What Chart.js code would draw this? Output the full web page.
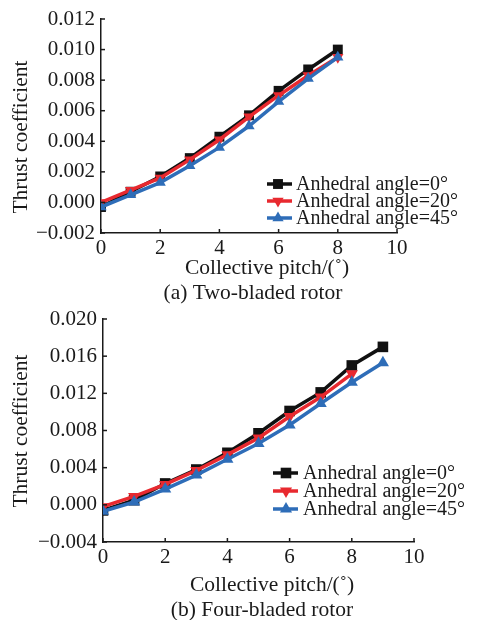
<!DOCTYPE html>
<html><head><meta charset="utf-8">
<script src="https://cdn.jsdelivr.net/npm/chart.js@4"></script>
<style>
html,body{margin:0;padding:0;background:#fff;width:479px;height:620px;overflow:hidden}
.box{position:absolute;left:0;width:479px}
#a{top:0;height:312px;z-index:2}#b{top:300px;height:320px;z-index:1}
canvas{display:block}
</style></head><body>
<div class="box" id="a"><canvas id="ca" width="479" height="312"></canvas></div>
<div class="box" id="b"><canvas id="cb" width="479" height="320"></canvas></div>
<script>
// ---------- data ----------
const seriesNames = ['Anhedral angle=0°', 'Anhedral angle=20°', 'Anhedral angle=45°'];
const xTickValues = [0, 2, 4, 6, 8, 10];
const xTickLabels = ['0', '2', '4', '6', '8', '10'];

// (a) Two-bladed rotor
const pitchA = [0, 1, 2, 3, 4, 5, 6, 7, 8];
const ctA0  = [-0.0003, 0.0007, 0.0017, 0.0029, 0.0043, 0.0057, 0.0073, 0.0087, 0.0100];
const ctA20 = [0.0000, 0.0008, 0.0016, 0.0028, 0.0041, 0.0056, 0.0070, 0.0083, 0.0095];
const ctA45 = [-0.0003, 0.0005, 0.0013, 0.0024, 0.0036, 0.0050, 0.0066, 0.0081, 0.0095];
const yTicksA = [-0.002, 0, 0.002, 0.004, 0.006, 0.008, 0.010, 0.012];
const yLabelsA = ['\u22120.002', '0.000', '0.002', '0.004', '0.006', '0.008', '0.010', '0.012'];
const xTitleA = 'Collective pitch/(\u02da)';
const captionA = '(a) Two-bladed rotor';

// (b) Four-bladed rotor
const pitchB = [0, 1, 2, 3, 4, 5, 6, 7, 8, 9];
const ctB0  = [-0.0006, 0.0005, 0.0023, 0.0038, 0.0056, 0.0077, 0.0101, 0.0121, 0.0150, 0.0170];
const ctB20 = [-0.0002, 0.0009, 0.0022, 0.0037, 0.0054, 0.0072, 0.0095, 0.0116, 0.0141];
const ctB45 = [-0.0007, 0.0003, 0.0017, 0.0032, 0.0049, 0.0066, 0.0086, 0.0109, 0.0132, 0.0153];
const yTicksB = [-0.004, 0, 0.004, 0.008, 0.012, 0.016, 0.020];
const yLabelsB = ['\u22120.004', '0.000', '0.004', '0.008', '0.012', '0.016', '0.020'];
const xTitleB = 'Collective pitch/(\u02da)';
const captionB = '(b) Four-bladed rotor';

const yTitle = 'Thrust coefficient';

// ---------- styles ----------
const FONT = "'Liberation Serif','Times New Roman',serif";
const TXT = '#1a1a1a';
const styles = [
  {color: '#111111', pointStyle: 'rect', rotation: 0},
  {color: '#e8292f', pointStyle: 'triangle', rotation: 180},
  {color: '#2e6db8', pointStyle: 'triangle', rotation: 0}
];

const decor = {
  id: 'decor',
  afterDraw(chart, args, o) {
    const ctx = chart.ctx;
    const {left, bottom} = chart.chartArea;
    const xs = chart.scales.x, ys = chart.scales.y;
    ctx.save();
    ctx.strokeStyle = '#1a1a1a';
    ctx.lineWidth = 1.5;
    xs.ticks.forEach(t => {
      const p = xs.getPixelForValue(t.value);
      ctx.beginPath(); ctx.moveTo(p, bottom); ctx.lineTo(p, bottom - 4); ctx.stroke();
    });
    ys.ticks.forEach(t => {
      const p = ys.getPixelForValue(t.value);
      ctx.beginPath(); ctx.moveTo(left, p); ctx.lineTo(left + 4, p); ctx.stroke();
    });
    ctx.fillStyle = TXT;
    ctx.font = "21.5px " + FONT;
    ctx.textAlign = 'center';
    ctx.textBaseline = 'middle';
    ctx.save();
    ctx.translate(o.yTitle.x, o.yTitle.y);
    ctx.rotate(-Math.PI / 2);
    ctx.fillText(o.yTitle.text, 0, 0);
    ctx.restore();
    ctx.fillText(o.xTitle.text, o.xTitle.x, o.xTitle.y);
    ctx.fillText(o.caption.text, o.caption.x, o.caption.y);
    // legend
    ctx.font = "20px " + FONT;
    ctx.textAlign = 'left';
    const L = o.legend;
    chart.data.datasets.forEach((ds, i) => {
      const y = L.y[i];
      ctx.strokeStyle = ds.borderColor;
      ctx.lineWidth = 3.5;
      ctx.beginPath(); ctx.moveTo(L.x0, y); ctx.lineTo(L.x1, y); ctx.stroke();
      ctx.fillStyle = ds.backgroundColor;
      Chart.helpers.drawPoint(ctx, {pointStyle: ds.pointStyle, rotation: ds.pointRotation,
        radius: ds.pointRadius, borderWidth: 0}, L.mx, y);
      ctx.fillStyle = TXT;
      ctx.fillText(ds.label, L.tx, y + 1);
    });
    ctx.restore();
  }
};

function makeChart(id, pitch, series, yTicks, yLabels, lay, texts, radius) {
  const datasets = series.map((vals, i) => ({
    label: seriesNames[i],
    data: vals.map((v, k) => ({x: pitch[k], y: v})),
    borderColor: styles[i].color,
    backgroundColor: styles[i].color,
    borderWidth: 3.5,
    pointStyle: styles[i].pointStyle,
    pointRotation: styles[i].rotation,
    pointRadius: styles[i].pointStyle === 'rect' ? radius + 0.5 : radius,
    pointBorderWidth: 0,
    pointBackgroundColor: styles[i].color,
    tension: 0,
    order: 3 - i
  }));
  return new Chart(document.getElementById(id), {
    type: 'line',
    data: {datasets},
    plugins: [decor],
    options: {
      responsive: false,
      animation: false,
      layout: {padding: {left: 0, right: lay.right, top: lay.top, bottom: 0}},
      plugins: {legend: {display: false}, tooltip: {enabled: false}, decor: texts},
      scales: {
        x: {
          type: 'linear', min: 0, max: 10,
          afterBuildTicks: s => { s.ticks = xTickValues.map(v => ({value: v})); },
          afterFit: s => { s.height = lay.xh; },
          grid: {display: false, drawTicks: false, tickLength: 0},
          border: {display: true, color: '#1a1a1a', width: 1.5},
          ticks: {color: TXT, font: {family: FONT, size: 21}, padding: 3,
            maxRotation: 0, autoSkip: false, callback: (v, i) => xTickLabels[i]}
        },
        y: {
          type: 'linear', min: yTicks[0], max: yTicks[yTicks.length - 1],
          afterBuildTicks: s => { s.ticks = yTicks.map(v => ({value: v})); },
          afterFit: s => { s.width = lay.yw; },
          grid: {display: false, drawTicks: false, tickLength: 0},
          border: {display: true, color: '#1a1a1a', width: 1.5},
          ticks: {color: TXT, font: {family: FONT, size: 21}, padding: 6,
            autoSkip: false, callback: (v, i) => yLabels[i]}
        }
      }
    }
  });
}

makeChart('ca', pitchA, [ctA0, ctA20, ctA45], yTicksA, yLabelsA,
  {right: 82, top: 19, xh: 79, yw: 101},
  {
    yTitle: {text: yTitle, x: 21, y: 137},
    xTitle: {text: xTitleA, x: 267, y: 268},
    caption: {text: captionA, x: 253, y: 293},
    legend: {x0: 267, x1: 292, mx: 278, tx: 296, y: [184, 201, 218]}
  }, 6.5);

makeChart('cb', pitchB, [ctB0, ctB20, ctB45], yTicksB, yLabelsB,
  {right: 65, top: 19, xh: 78, yw: 103},
  {
    yTitle: {text: yTitle, x: 21, y: 131},
    xTitle: {text: xTitleB, x: 272, y: 285},
    caption: {text: captionB, x: 262, y: 310},
    legend: {x0: 273, x1: 298, mx: 286, tx: 303, y: [173, 191, 209]}
  }, 7);
</script>
</body></html>
